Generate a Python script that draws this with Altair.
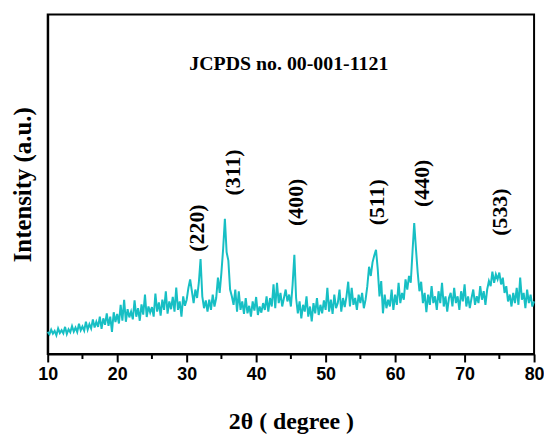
import altair as alt
import pandas as pd

# 2-theta grid start/step (degrees) and intensities
two_theta_start = 10.0
two_theta_step = 0.25
intensity = [
    6.5, 5.8, 7.2, 6.0,
    6.8, 5.5, 7.5, 6.2,
    7.0, 6.1, 8.0, 5.9,
    7.3, 6.4, 8.2, 6.6,
    7.8, 6.5, 8.9, 7.0,
    8.1, 6.9, 9.5, 7.2,
    8.8, 7.5, 10.2, 7.8,
    9.5, 8.0, 11.0, 7.4,
    10.5, 8.6, 12.0, 8.3,
    11.0, 6.5, 12.3, 9.4,
    11.8, 9.0, 14.5, 9.8,
    16.0, 9.5, 13.2, 10.8,
    12.5, 10.2, 15.8, 11.0,
    13.5, 9.8, 14.6, 11.6,
    17.5, 10.9, 14.0, 12.2,
    13.8, 11.0, 17.8, 12.5,
    15.2, 11.3, 16.0, 13.0,
    18.5, 11.9, 15.5, 13.2,
    16.8, 12.5, 19.6, 13.0,
    15.5, 11.0, 17.0, 14.2,
    16.0, 19.5, 22.0, 18.5,
    15.0, 19.0, 16.5, 21.0,
    28.0, 17.0, 13.5, 15.8,
    12.5, 16.0, 13.0, 17.5,
    14.0, 16.5, 22.5, 18.0,
    24.0, 31.0, 39.8, 30.0,
    27.5, 19.0, 17.0, 14.5,
    19.0, 12.5, 18.5, 13.0,
    15.5, 11.8, 16.5, 12.0,
    14.2, 11.0, 15.5, 12.8,
    16.8, 11.5, 14.0, 12.2,
    15.0, 13.0, 17.0, 12.5,
    16.5, 14.0, 20.5, 13.5,
    21.0, 15.0, 18.0, 14.0,
    16.5, 19.0, 15.5, 17.5,
    14.0, 20.5, 29.2, 16.5,
    12.0, 15.5, 10.5, 14.5,
    12.5, 17.0, 11.0, 14.0,
    9.6, 15.0, 12.0, 16.5,
    11.5, 14.5, 12.0, 15.8,
    13.0, 19.5, 12.5, 16.0,
    11.8, 17.5, 13.5, 15.0,
    19.0, 12.5, 16.5, 13.8,
    17.0, 21.3, 14.0, 19.5,
    14.5, 16.5, 13.0, 17.5,
    15.0, 18.0, 13.5, 16.0,
    20.0, 25.7, 23.0, 27.0,
    29.0, 30.7, 25.0, 17.0,
    21.5, 12.0, 17.5, 13.5,
    16.0, 14.0, 19.0, 13.0,
    17.5, 14.5, 21.0, 15.0,
    18.0, 16.0, 22.0, 19.0,
    23.0, 21.0, 30.0, 38.6,
    31.0, 24.0, 18.5, 21.3,
    15.0, 18.0, 12.3, 17.5,
    14.5, 20.0, 15.0, 17.0,
    13.0, 18.5, 15.0, 21.0,
    14.0, 17.0, 12.5, 16.5,
    18.0, 14.0, 19.5, 15.0,
    17.0, 13.0, 18.5, 15.5,
    20.5, 14.0, 17.0, 13.5,
    16.5, 19.0, 14.5, 17.0,
    15.0, 20.0, 16.0, 18.5,
    14.5, 19.0, 21.5, 20.0,
    24.3, 21.0, 23.5, 22.0,
    24.0, 20.5, 22.5, 18.0,
    20.0, 15.5, 17.5, 14.0,
    18.0, 15.0, 19.5, 14.5,
    22.5, 16.0, 18.0, 13.5,
    19.0, 15.0, 17.5, 14.0,
    15.5,
]
two_theta = [two_theta_start + i * two_theta_step for i in range(len(intensity))]

# peak labels
peak_labels = ["(220)", "(311)", "(400)", "(511)", "(440)", "(533)"]
peak_label_x = [31.5, 36.7, 45.7, 57.4, 63.9, 75.1]
peak_label_y = [37.1, 53.5, 44.7, 44.7, 50.3, 41.8]

# axis ticks
major_ticks = [10, 20, 30, 40, 50, 60, 70, 80]
minor_ticks = [15, 25, 35, 45, 55, 65, 75]

note_text = ["JCPDS no. 00-001-1121"]
note_x = [44.7]
note_y = [85.4]

df = pd.DataFrame({"x": two_theta, "y": intensity})
labels_df = pd.DataFrame({"label": peak_labels, "x": peak_label_x, "y": peak_label_y})
minor_df = pd.DataFrame({"x": minor_ticks})
note_df = pd.DataFrame({"label": note_text, "x": note_x, "y": note_y})

W, H = 490, 342
xscale = alt.Scale(domain=[10, 80], nice=False, zero=False)
yscale = alt.Scale(domain=[0, 100], nice=False, zero=False)

line = alt.Chart(df).mark_line(color="#17BFC4", strokeWidth=2).encode(
    x=alt.X(
        "x:Q",
        scale=xscale,
        axis=alt.Axis(
            values=major_ticks,
            title="2θ ( degree )",
            titleFont="Liberation Serif",
            titleFontSize=24,
            titleFontWeight="bold",
            titleColor="black",
            titlePadding=26,
            labelFont="Liberation Sans",
            labelFontSize=18,
            labelFontWeight="bold",
            labelColor="black",
            labelPadding=4,
            tickSize=8,
            tickWidth=2,
            tickColor="black",
            domainColor="black",
            domainWidth=2,
            grid=False,
            labelFlush=False,
        ),
    ),
    y=alt.Y(
        "y:Q",
        scale=yscale,
        axis=alt.Axis(
            title="Intensity (a.u.)",
            titleFont="Liberation Serif",
            titleFontSize=25,
            titleFontWeight="bold",
            titleColor="black",
            titlePadding=12,
            labels=False,
            ticks=False,
            domainColor="black",
            domainWidth=2,
            grid=False,
        ),
    ),
)

minor = alt.Chart(minor_df).mark_rule(color="black", strokeWidth=2).encode(
    x=alt.X("x:Q", scale=xscale),
    y=alt.value(H),
    y2=alt.value(H + 5),
)

peak_text = alt.Chart(labels_df).mark_text(
    angle=270,
    font="Liberation Serif",
    fontSize=22,
    fontWeight="bold",
    color="black",
    align="center",
    baseline="middle",
).encode(
    x=alt.X("x:Q", scale=xscale),
    y=alt.Y("y:Q", scale=yscale),
    text="label:N",
)

note = alt.Chart(note_df).mark_text(
    font="Liberation Serif",
    fontSize=20,
    fontWeight="bold",
    color="black",
    align="center",
    baseline="middle",
).encode(
    x=alt.X("x:Q", scale=xscale),
    y=alt.Y("y:Q", scale=yscale),
    text="label:N",
)

chart = (
    alt.layer(line, minor, peak_text, note)
    .properties(
        width=W,
        height=H,
        autosize=alt.AutoSizeParams(type="none"),
        padding={"left": 40, "top": 5, "right": 10, "bottom": 83},
    )
    .configure_view(stroke="black", strokeWidth=2)
)

chart.save("out.html", embed_options={"renderer": "svg", "actions": False})
